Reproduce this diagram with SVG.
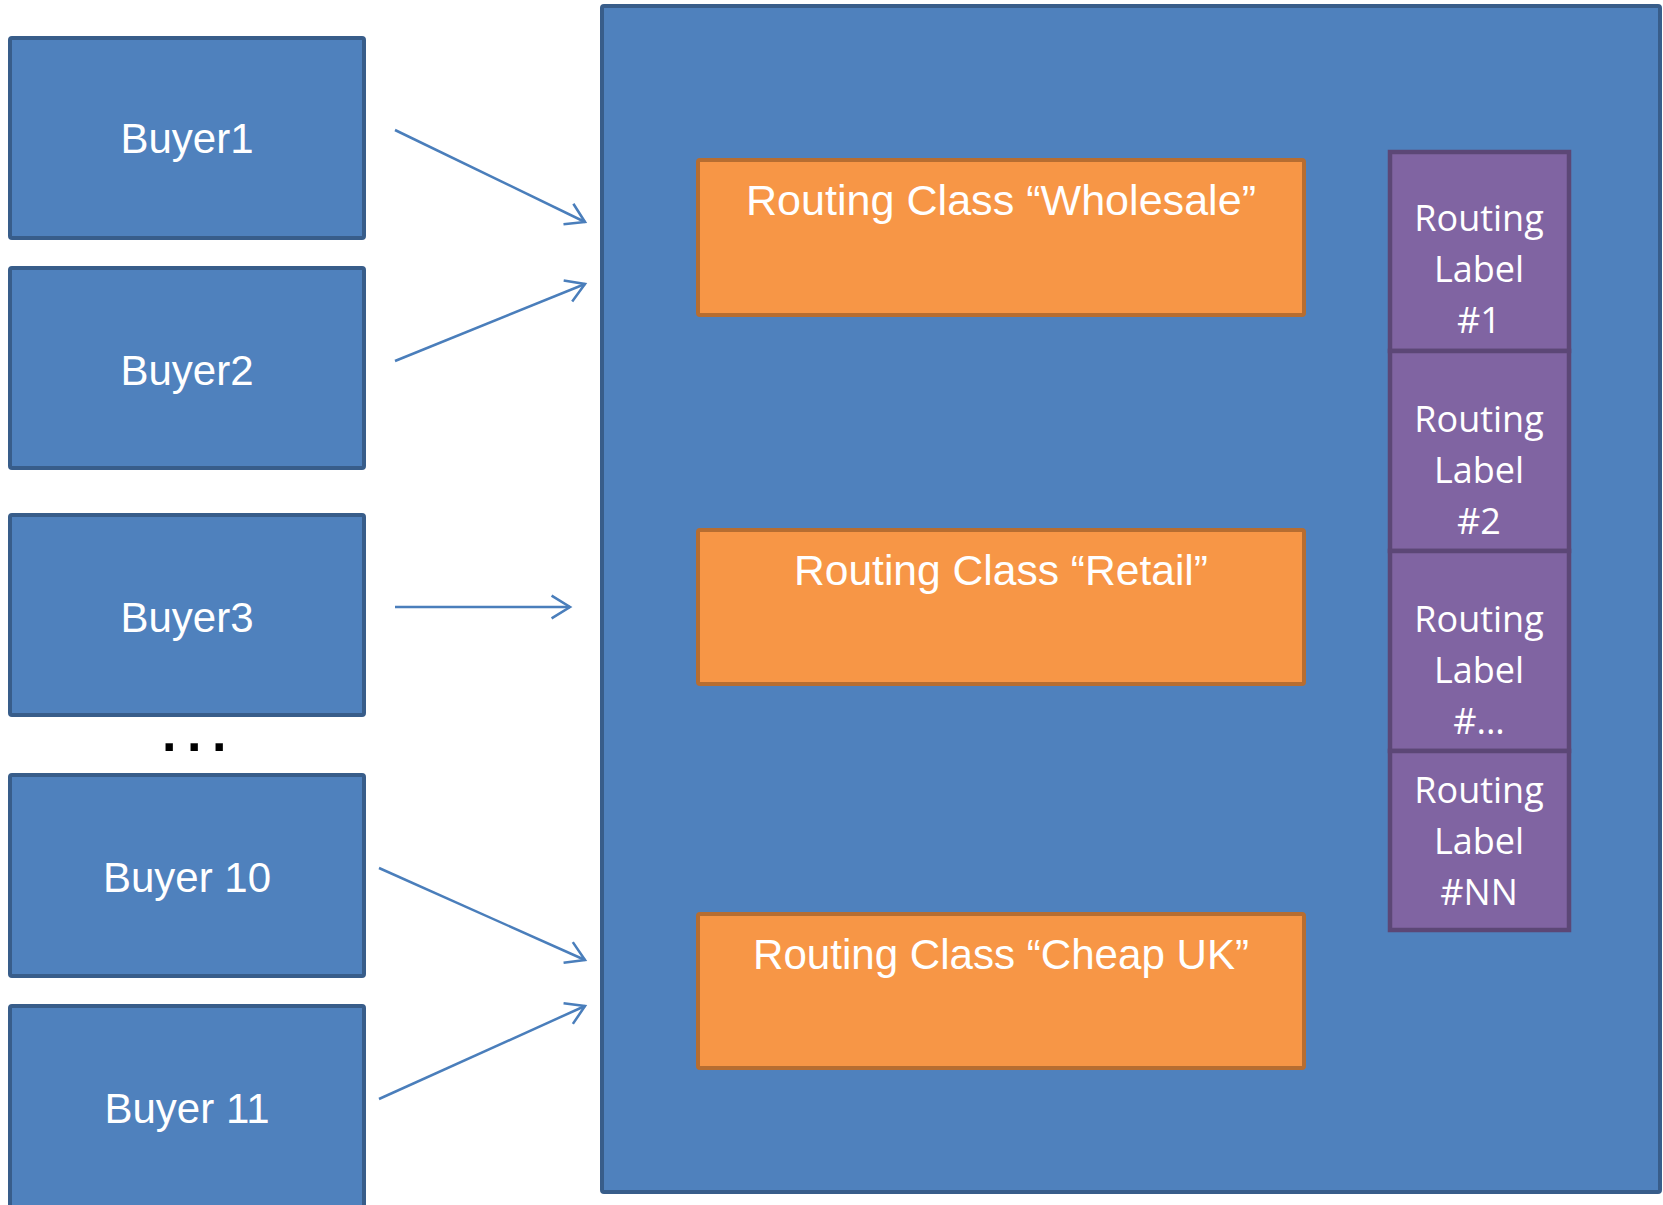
<svg xmlns="http://www.w3.org/2000/svg" width="1663" height="1205" viewBox="0 0 1663 1205">
<defs>
<style>
.buyer{fill:#4F81BD;stroke:#385D8A;stroke-width:4}
.bt{font-family:"Liberation Sans",Arial,sans-serif;font-size:42px;fill:#FFFFFF;text-anchor:middle}
.cls{fill:#F79646;stroke:#B66D31;stroke-width:4}
.lab{fill:#8064A2;stroke:#5C4776;stroke-width:4.5}
.lt{font-family:"Open Sans","Liberation Sans",sans-serif;font-size:36px;fill:#FFFFFF;text-anchor:middle}
.arr{stroke:#4A7EBB;stroke-width:2.5;fill:none;marker-end:url(#ah)}
</style>
<marker id="ah" viewBox="0 0 12 12" refX="11" refY="6" markerWidth="17" markerHeight="17" markerUnits="userSpaceOnUse" orient="auto" overflow="visible">
<path d="M-2,-2 L11,6 L-2,14" fill="none" stroke="#4A7EBB" stroke-width="1.8"/>
</marker>
</defs>
<rect width="1663" height="1205" fill="#FFFFFF"/>
<g id="container">
<rect x="602" y="6" width="1058" height="1186" fill="#4F81BD" stroke="#385D8A" stroke-width="4" rx="2"/>
</g>
<g id="buyer1"><rect class="buyer" x="10" y="38" width="354" height="200" rx="2"/><text class="bt" x="187" y="153">Buyer1</text></g>
<g id="buyer2"><rect class="buyer" x="10" y="268" width="354" height="200" rx="2"/><text class="bt" x="187" y="385">Buyer2</text></g>
<g id="buyer3"><rect class="buyer" x="10" y="515" width="354" height="200" rx="2"/><text class="bt" x="187" y="632">Buyer3</text></g>
<g id="dots"><text x="162" y="751" font-family="Liberation Sans,Arial,sans-serif" font-size="52" font-weight="bold" letter-spacing="10.5" fill="#000000">...</text></g>
<g id="buyer10"><rect class="buyer" x="10" y="775" width="354" height="201" rx="2"/><text class="bt" x="187" y="892">Buyer 10</text></g>
<g id="buyer11"><rect class="buyer" x="10" y="1006" width="354" height="210" rx="2"/><text class="bt" x="187" y="1123">Buyer 11</text></g>
<g id="class-wholesale"><rect class="cls" x="698" y="160" width="606" height="155" rx="2"/><text class="bt" x="1001" y="215" textLength="510" lengthAdjust="spacingAndGlyphs">Routing Class “Wholesale”</text></g>
<g id="class-retail"><rect class="cls" x="698" y="530" width="606" height="154" rx="2"/><text class="bt" x="1001" y="585" textLength="414" lengthAdjust="spacingAndGlyphs">Routing Class “Retail”</text></g>
<g id="class-cheapuk"><rect class="cls" x="698" y="914" width="606" height="154" rx="2"/><text class="bt" x="1001" y="969" textLength="496" lengthAdjust="spacingAndGlyphs">Routing Class “Cheap UK”</text></g>
<g id="label1"><rect class="lab" x="1390" y="152" width="179" height="199"/><text class="lt" x="1479" y="231">Routing</text><text class="lt" x="1479" y="282">Label</text><text class="lt" x="1479" y="333">#1</text></g>
<g id="label2"><rect class="lab" x="1390" y="351" width="179" height="200"/><text class="lt" x="1479" y="432">Routing</text><text class="lt" x="1479" y="483">Label</text><text class="lt" x="1479" y="534">#2</text></g>
<g id="label3"><rect class="lab" x="1390" y="551" width="179" height="200"/><text class="lt" x="1479" y="632">Routing</text><text class="lt" x="1479" y="683">Label</text><text class="lt" x="1479" y="734">#...</text></g>
<g id="labelNN"><rect class="lab" x="1390" y="751" width="179" height="179"/><text class="lt" x="1479" y="803">Routing</text><text class="lt" x="1479" y="854">Label</text><text class="lt" x="1479" y="905">#NN</text></g>
<g id="connectors">
<line class="arr" x1="395" y1="130" x2="585" y2="222"/>
<line class="arr" x1="395" y1="361" x2="585" y2="284"/>
<line class="arr" x1="395" y1="607" x2="570" y2="607"/>
<line class="arr" x1="379" y1="868" x2="585" y2="960"/>
<line class="arr" x1="379" y1="1099" x2="585" y2="1006"/>
</g>
</svg>
